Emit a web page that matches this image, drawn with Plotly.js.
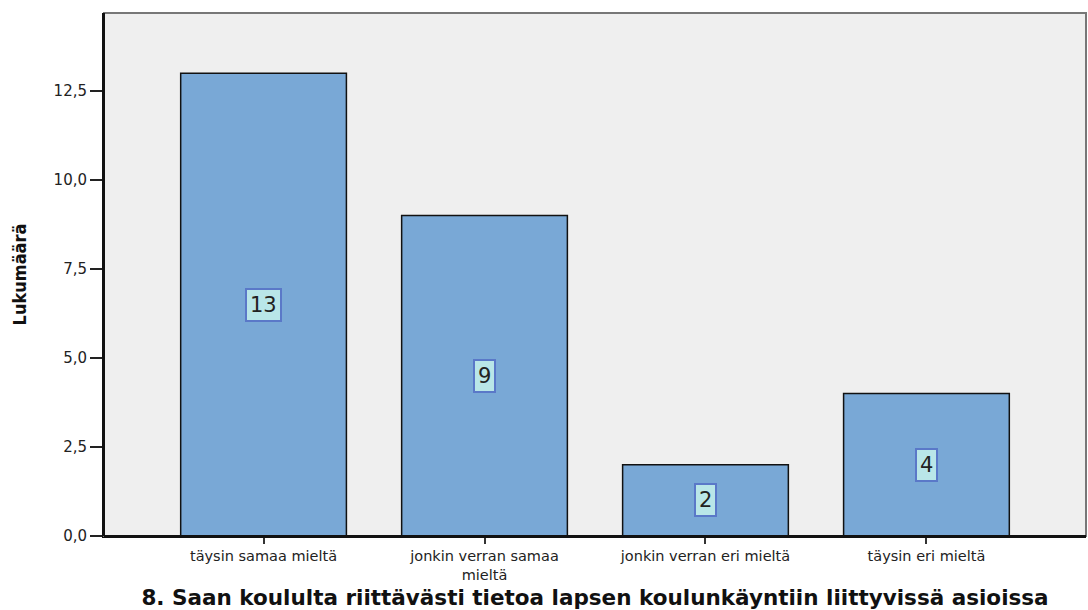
<!DOCTYPE html>
<html>
<head>
<meta charset="utf-8">
<script src="https://cdn.plot.ly/plotly-3.0.1.min.js"></script>
<style>html,body{margin:0;padding:0;background:#fff;}#chart{width:1088px;height:610px;}</style>
</head>
<body>
<div id="chart"></div>
<script>
var categories = ["täysin samaa mieltä", "jonkin verran samaa mieltä", "jonkin verran eri mieltä", "täysin eri mieltä"];
var categoryLabels = ["täysin samaa mieltä", "jonkin verran samaa<br>mieltä", "jonkin verran eri mieltä", "täysin eri mieltä"];
var counts = [13, 9, 2, 4];
var yTickVals = [0, 2.5, 5, 7.5, 10, 12.5];

var xIdx = categories.map(function(c, i){ return i; });

var trace = {
  type: 'bar',
  x: xIdx,
  y: counts,
  width: 0.75,
  marker: {color: '#79A8D6', line: {color: '#111111', width: 1.5}},
  hoverinfo: 'none'
};

var annotations = counts.map(function(v, i){
  return {
    x: i, y: v / 2, xref: 'x', yref: 'y',
    text: String(v), showarrow: false,
    font: {family: 'DejaVu Sans, Arial, sans-serif', size: 21, color: '#222'},
    bgcolor: '#B9E6E8', bordercolor: '#5A78C8', borderwidth: 2, borderpad: 3
  };
});

var layout = {
  width: 1088, height: 610,
  margin: {l: 104, r: 2, t: 13, b: 74},
  paper_bgcolor: '#ffffff',
  plot_bgcolor: '#EFEFEF',
  separators: ',.',
  showlegend: false,
  bargap: 0,
  xaxis: {
    range: [-0.722, 3.722],
    tickmode: 'array', tickvals: xIdx, ticktext: categoryLabels,
    ticks: 'outside', ticklen: 6, tickwidth: 2, tickcolor: '#333',
    showline: true, linecolor: '#111', linewidth: 2,
    showgrid: false, zeroline: false,
    tickfont: {family: 'DejaVu Sans, Arial, sans-serif', size: 14.5, color: '#222'},
    title: {text: '<b>8. Saan koululta riittävästi tietoa lapsen koulunkäyntiin liittyvissä asioissa</b>',
            font: {family: 'DejaVu Sans, Verdana, sans-serif', size: 21.5, color: '#111'}, standoff: 10}
  },
  yaxis: {
    range: [0, 14.69],
    tickmode: 'array', tickvals: yTickVals, tickformat: '.1f',
    ticks: 'outside', ticklen: 12, tickwidth: 2, tickcolor: '#222',
    showline: true, linecolor: '#111', linewidth: 2,
    showgrid: false, zeroline: false,
    tickfont: {family: 'DejaVu Sans, Arial, sans-serif', size: 15, color: '#222'},
    title: {text: '<b>Lukumäärä</b>',
            font: {family: 'DejaVu Sans Condensed, Liberation Sans Narrow, Arial Narrow, sans-serif', size: 18, color: '#111'}, standoff: 22}
  },
  shapes: [{
    type: 'rect', xref: 'paper', yref: 'paper', x0: 0, x1: 1, y0: 0, y1: 1,
    line: {color: '#777', width: 2}, fillcolor: 'rgba(0,0,0,0)', layer: 'above'
  }, {
    type: 'line', xref: 'paper', yref: 'paper', x0: 0, x1: 0, y0: 0, y1: 1,
    line: {color: '#111', width: 2}, layer: 'above'
  }, {
    type: 'line', xref: 'paper', yref: 'paper', x0: 0, x1: 1, y0: 0, y1: 0,
    line: {color: '#111', width: 2}, layer: 'above'
  }],
  annotations: annotations
};

Plotly.newPlot('chart', [trace], layout, {displayModeBar: false, staticPlot: true});
</script>
</body>
</html>
